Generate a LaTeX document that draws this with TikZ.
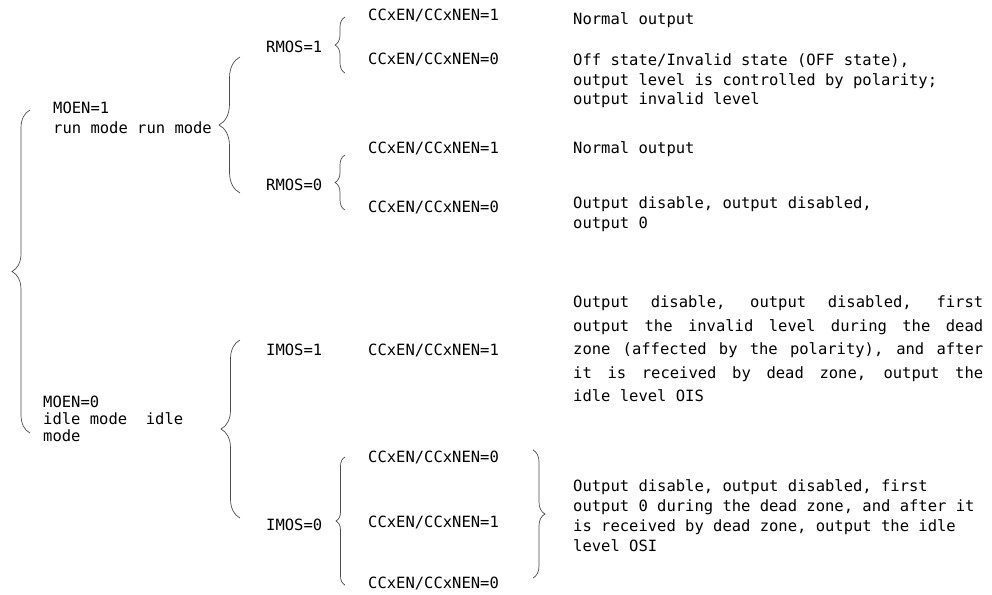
\documentclass[tikz,border=0pt]{standalone}
\usepackage{fontspec}
\setmainfont{DejaVu Sans Mono}
\usetikzlibrary{decorations.pathreplacing,positioning}
\newcommand{\jline}[1]{\hbox to 410pt{\spaceskip=\fontdimen2\font plus 1fil\relax #1}}

\begin{document}
\begin{tikzpicture}[
  x=1pt, y=-1pt,
  font=\fontsize{15.5}{20}\selectfont,
  lbl/.style={anchor=base west, inner sep=0pt, align=left},
  brc/.style={decorate, decoration={brace, amplitude=#1}, draw=black!70, line width=0.7pt},
]
  \useasboundingbox (0,0) rectangle (992,594);

  % modes (multi-line nodes sit on their last baseline)
  \node[lbl] (moen1) at (53,133.5) {MOEN=1\\run mode run mode};
  \node[lbl, font=\fontsize{15.5}{17}\selectfont] (moen0) at (43,441.5) {MOEN=0\\idle mode\ \ idle\\mode};

  % output mode bits
  \node[lbl] (rmos1) at (266,52.5) {RMOS=1};
  \node[lbl] (rmos0) at (266,190.5) {RMOS=0};
  \node[lbl] (imos1) at (266,355.5) {IMOS=1};
  \node[lbl] (imos0) at (266,530.5) {IMOS=0};

  % channel enables
  \node[lbl] (en1a) at (368,20.5) {CCxEN/CCxNEN=1};
  \node[lbl] (en0a) at (368,64.5) {CCxEN/CCxNEN=0};
  \node[lbl] (en1b) at (368,153.5) {CCxEN/CCxNEN=1};
  \node[lbl] (en0b) at (368,212.5) {CCxEN/CCxNEN=0};
  \node[lbl] (en1c) at (368,355.5) {CCxEN/CCxNEN=1};
  \node[lbl] (en0c) at (368,462.5) {CCxEN/CCxNEN=0};
  \node[lbl] (en1d) at (368,527.5) {CCxEN/CCxNEN=1};
  \node[lbl] (en0d) at (368,588.5) {CCxEN/CCxNEN=0};

  % resulting outputs
  \node[lbl] (out1) at (573,24.5) {Normal output};
  \node[lbl, font=\fontsize{15.5}{19.5}\selectfont] (out2) at (573,104.5)
    {Off state/Invalid state (OFF state),\\output level is controlled by polarity;\\output invalid level};
  \node[lbl] (out3) at (573,153.5) {Normal output};
  \node[lbl] (out4) at (573,228.5) {Output disable, output disabled,\\output 0};
  \node[lbl, font=\fontsize{15.5}{23.5}\selectfont] (out5) at (573,401.5)
    {\jline{Output disable, output disabled, first}\\
     \jline{output the invalid level during the dead}\\
     \jline{zone (affected by the polarity), and after}\\
     \jline{it is received by dead zone, output the}\\
     idle level OIS};
  \node[lbl] (out6) at (573,551.5)
    {Output disable, output disabled, first\\output 0 during the dead zone, and after it\\is received by dead zone, output the idle\\level OSI};

  % braces
  \draw[brc=18pt] (30,433) -- (30,110);
  \draw[brc=21pt] (240,193) -- (240,57);
  \draw[brc=19pt] (240,518) -- (240,340);
  \draw[brc=10pt] (345,73) -- (345,17);
  \draw[brc=10pt] (345,210) -- (345,155);
  \draw[brc=9pt] (345,585) -- (345,457);
  \draw[brc=12pt] (533,450) -- (533,578);
\end{tikzpicture}
\end{document}
